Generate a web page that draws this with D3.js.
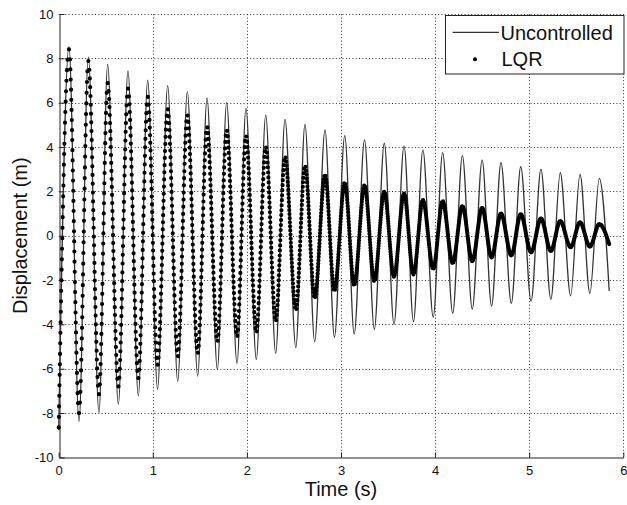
<!DOCTYPE html>
<html><head><meta charset="utf-8">
<script src="https://cdn.jsdelivr.net/npm/d3@7"></script>
<style>
body{margin:0;background:#fff}
svg{display:block}
text{font-family:"Liberation Sans",Arial,Helvetica,sans-serif;fill:#111}
</style>
</head><body>
<svg id="chart" width="627" height="505"></svg>
<script>
// Times (s) of the successive troughs / peaks (plus the end point)
const extremaTimes = [0, 0.109, 0.216, 0.315, 0.428, 0.52, 0.634, 0.736, 0.846, 0.946,
  1.05, 1.158, 1.265, 1.367, 1.477, 1.576, 1.686, 1.785, 1.895, 1.99,
  2.1, 2.2, 2.306, 2.405, 2.52, 2.617, 2.72, 2.83, 2.93, 3.04,
  3.14, 3.25, 3.354, 3.46, 3.563, 3.67, 3.77, 3.87, 3.98, 4.08,
  4.187, 4.29, 4.395, 4.5, 4.6, 4.7, 4.81, 4.91, 5.02, 5.125,
  5.23, 5.33, 5.44, 5.54, 5.645, 5.745, 5.85];
// Uncontrolled displacement (m) at those times
const uncontrolled = [-8.77, 8.53, -8.39, 8.07, -7.98, 7.73, -7.61, 7.43, -7.22, 7.02,
  -6.93, 6.77, -6.58, 6.5, -6.33, 6.22, -6.03, 6.01, -5.76, 5.74,
  -5.58, 5.44, -5.31, 5.25, -5.05, 5.02, -4.78, 4.77, -4.58, 4.51,
  -4.43, 4.32, -4.22, 4.17, -4.0, 4.05, -3.88, 3.87, -3.68, 3.75,
  -3.5, 3.61, -3.31, 3.41, -3.17, 3.29, -3.05, 3.11, -2.95, 2.99,
  -2.87, 2.84, -2.71, 2.77, -2.6, 2.59, -2.49];
// LQR-controlled displacement (m) at those times
const lqr = [-8.65, 8.4, -8.0, 7.88, -7.15, 6.88, -6.8, 6.64, -6.43, 6.27,
  -5.83, 5.71, -5.45, 5.44, -5.3, 4.91, -4.77, 4.76, -4.55, 4.51,
  -4.35, 4.01, -3.85, 3.56, -3.35, 3.15, -2.82, 2.76, -2.5, 2.4,
  -2.25, 2.28, -2.05, 1.98, -1.85, 1.9, -1.75, 1.61, -1.5, 1.56,
  -1.24, 1.34, -1.15, 1.26, -0.98, 1.0, -0.89, 0.97, -0.75, 0.78,
  -0.69, 0.66, -0.52, 0.6, -0.49, 0.52, -0.38];

const xTicks = [0, 1, 2, 3, 4, 5, 6];
const yTicks = [-10, -8, -6, -4, -2, 0, 2, 4, 6, 8, 10];
const seriesNames = ["Uncontrolled", "LQR"];
const xTitle = "Time (s)";
const yTitle = "Displacement (m)";
const markerTimeStep = 0.003; // spacing of LQR markers in time

const svg = d3.select("#chart");
const x = d3.scaleLinear().domain([0, 6]).range([58.7, 623.3]);
const y = d3.scaleLinear().domain([-10, 10]).range([457.4, 14]);
const fmt = d => String(d); // plain hyphen-minus as in the original

// grid
const grid = svg.append("g").attr("stroke", "#333").attr("stroke-width", 1)
  .attr("stroke-dasharray", "1 2.3");
grid.selectAll(".gx").data(xTicks.filter(d => d !== 0)).join("line")
  .attr("x1", d => Math.round(x(d)) + 0.5).attr("x2", d => Math.round(x(d)) + 0.5)
  .attr("y1", y(-10)).attr("y2", y(10));
grid.selectAll(".gy").data(yTicks.filter(d => d !== -10)).join("line")
  .attr("y1", d => Math.round(y(d)) + 0.5).attr("y2", d => Math.round(y(d)) + 0.5)
  .attr("x1", x(0)).attr("x2", x(6));

// axes
const ax = svg.append("g").attr("transform", `translate(${Math.round(x(0)) + 0.5},0)`)
  .call(d3.axisLeft(y).tickValues(yTicks).tickSize(-5).tickSizeOuter(0).tickPadding(6)
    .tickFormat(fmt));
const bx = svg.append("g").attr("transform", `translate(0,${Math.round(y(-10)) + 0.5})`)
  .call(d3.axisBottom(x).tickValues(xTicks).tickSize(-5).tickSizeOuter(0).tickPadding(8)
    .tickFormat(fmt));
[ax, bx].forEach(g => {
  g.attr("font-size", 13).attr("font-family", null);
  g.selectAll("path,line").attr("stroke", "#222");
  g.selectAll("text").attr("fill", "#111");
});

// series
const idx = d3.range(extremaTimes.length);
const lineU = d3.line().x(i => x(extremaTimes[i])).y(i => y(uncontrolled[i])).curve(d3.curveMonotoneX);
const lineL = d3.line().x(i => x(extremaTimes[i])).y(i => y(lqr[i])).curve(d3.curveMonotoneX);

svg.append("path").attr("d", lineU(idx)).attr("fill", "none")
  .attr("stroke", "#333").attr("stroke-width", 1.3);

const lqrPath = svg.append("path").attr("d", lineL(idx)).attr("fill", "none")
  .attr("stroke", "#000").attr("stroke-width", 4.2).attr("stroke-linecap", "round");

// marker spacing: per half-cycle, place dots evenly (styling via dasharray)
(function () {
  const node = lqrPath.node();
  const total = node.getTotalLength();
  function lenAtX(px) {
    let lo = 0, hi = total;
    for (let k = 0; k < 40; k++) {
      const mid = (lo + hi) / 2;
      if (node.getPointAtLength(mid).x < px) lo = mid; else hi = mid;
    }
    return (lo + hi) / 2;
  }
  const lens = extremaTimes.map((t, i) => i === 0 ? 0 : (i === extremaTimes.length - 1 ? total : lenAtX(x(t))));
  const dash = [];
  for (let i = 0; i < lens.length - 1; i++) {
    const L = lens[i + 1] - lens[i];
    const n = Math.max(1, Math.round((extremaTimes[i + 1] - extremaTimes[i]) / markerTimeStep));
    const g = L / n;
    for (let k = 0; k < n; k++) dash.push(0, g);
  }
  lqrPath.attr("stroke-dasharray", dash.map(v => v.toFixed(3)).join(" "));
})();

// legend
const lg = svg.append("g");
lg.append("rect").attr("x", 445.5).attr("y", 15.5).attr("width", 178.5).attr("height", 58.5)
  .attr("fill", "#fff").attr("stroke", "#222").attr("stroke-width", 1);
lg.append("line").attr("x1", 452.7).attr("x2", 499).attr("y1", 32.3).attr("y2", 32.3)
  .attr("stroke", "#333").attr("stroke-width", 1.3);
lg.append("circle").attr("cx", 475).attr("cy", 59.3).attr("r", 2).attr("fill", "#000");
lg.append("text").attr("x", 500.5).attr("y", 39.5).attr("font-size", 20).text(seriesNames[0]);
lg.append("text").attr("x", 501.5).attr("y", 66.3).attr("font-size", 20).text(seriesNames[1]);

// titles
svg.append("text").attr("x", (x(0) + x(6)) / 2).attr("y", 496).attr("text-anchor", "middle")
  .attr("font-size", 20).text(xTitle);
svg.append("text").attr("transform", `translate(26.5,${(y(-10) + y(10)) / 2}) rotate(-90)`)
  .attr("text-anchor", "middle").attr("font-size", 20).text(yTitle);
</script>
</body></html>
